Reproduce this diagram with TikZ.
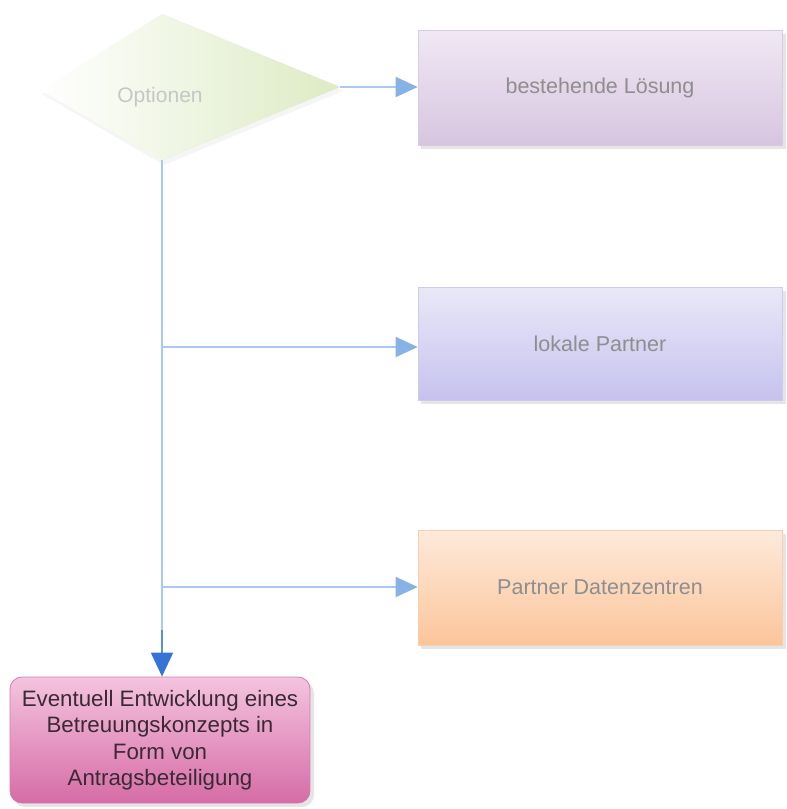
\documentclass[tikz,border=0pt]{standalone}
\usepackage{fontspec}
\setmainfont{Liberation Sans}
\usetikzlibrary{arrows.meta,positioning}
\definecolor{txtgray}{HTML}{8E8E8E}
\definecolor{linblue}{HTML}{A9C9F0}
\definecolor{tipblue}{HTML}{86B2E6}
\definecolor{darkblue}{HTML}{3773D6}
\definecolor{optgreen}{HTML}{DDEBC4}
\definecolor{lavtop}{HTML}{F0E8F4}
\definecolor{lavbot}{HTML}{D7C5E0}
\definecolor{lavdraw}{HTML}{D8CDE0}
\definecolor{blutop}{HTML}{E9E8F8}
\definecolor{blubot}{HTML}{C6C2EE}
\definecolor{bludraw}{HTML}{CFCBEE}
\definecolor{ortop}{HTML}{FDEADB}
\definecolor{orbot}{HTML}{FCC59A}
\definecolor{ordraw}{HTML}{F5D0B0}
\definecolor{pktop}{HTML}{F4C4DF}
\definecolor{pkbot}{HTML}{D66CA6}
\definecolor{pkdraw}{HTML}{D57AAE}
\definecolor{pktext}{HTML}{3A2A35}
\tikzset{
  optbox/.style={rectangle, minimum width=364pt, minimum height=115pt, inner sep=0pt,
    font=\fontsize{21.5}{25}\selectfont, text=txtgray, line width=0.6pt},
  conn/.style={draw=linblue, line width=1.6pt, -{Triangle[length=22pt,width=20pt,color=tipblue]}},
  plain/.style={draw=linblue, line width=1.6pt},
  shadowbox/.style={fill=black, opacity=0.10, draw=none}
}
\begin{document}
\begin{tikzpicture}[x=1pt,y=-1pt]
\useasboundingbox (0,0) rectangle (787,809);
% diamond
\coordinate (dtop) at (162,14);
\coordinate (dright) at (340,87);
\coordinate (dbot) at (162,160);
\coordinate (dleft) at (40,90);
\fill[black,opacity=0.04] (164,18) -- (343,91) -- (164,165) -- (42,94) -- cycle;
\shade[left color=white, right color=optgreen] (dtop) -- (dright) -- (dbot) -- (dleft) -- cycle;
\draw[optgreen!80!gray!60, line width=0.4pt, opacity=0.4] (dtop) -- (dright) -- (dbot);
\node[font=\fontsize{21}{24}\selectfont, text=txtgray!50] (opt) at (160,97) {Optionen};
% shadows
\fill[shadowbox] (421,34) rectangle (786,149);
\fill[shadowbox] (421,291) rectangle (786,404);
\fill[shadowbox] (421,534) rectangle (786,649);
\fill[shadowbox, rounded corners=12pt] (13,681) rectangle (314,807);
% boxes
\node[optbox, top color=lavtop, bottom color=lavbot, draw=lavdraw] (b1) at (600,87.5) {bestehende Lösung};
\node[optbox, minimum height=113pt, top color=blutop, bottom color=blubot, draw=bludraw] (b2) at (600,343.5) {lokale Partner};
\node[optbox, top color=ortop, bottom color=orbot, draw=ordraw] (b3) at (600,587.5) {Partner Datenzentren};
\node[rectangle, rounded corners=12pt, minimum width=300pt, minimum height=126pt, inner sep=0pt,
  top color=pktop, bottom color=pkbot, draw=pkdraw, line width=0.8pt,
  font=\fontsize{22.3}{26.5}\selectfont, text=pktext, align=center] (b4) at (160,740)
  {Eventuell Entwicklung eines\\Betreuungskonzepts in\\Form von\\Antragsbeteiligung};
% connectors
\coordinate (j2) at (162,347);
\coordinate (j3) at (162,587);
\coordinate (jlow) at (162,630);
\draw[conn] (dright) -- (b1.west |- dright);
\draw[plain] (dbot) -- (jlow);
\draw[conn] (j2) -- (b2.west |- j2);
\draw[conn] (j3) -- (b3.west |- j3);
\draw[draw=darkblue!70!linblue, line width=1.8pt, -{Triangle[length=24pt,width=22pt,color=darkblue]}] (jlow) -- (b4.north -| jlow);
\end{tikzpicture}
\end{document}
